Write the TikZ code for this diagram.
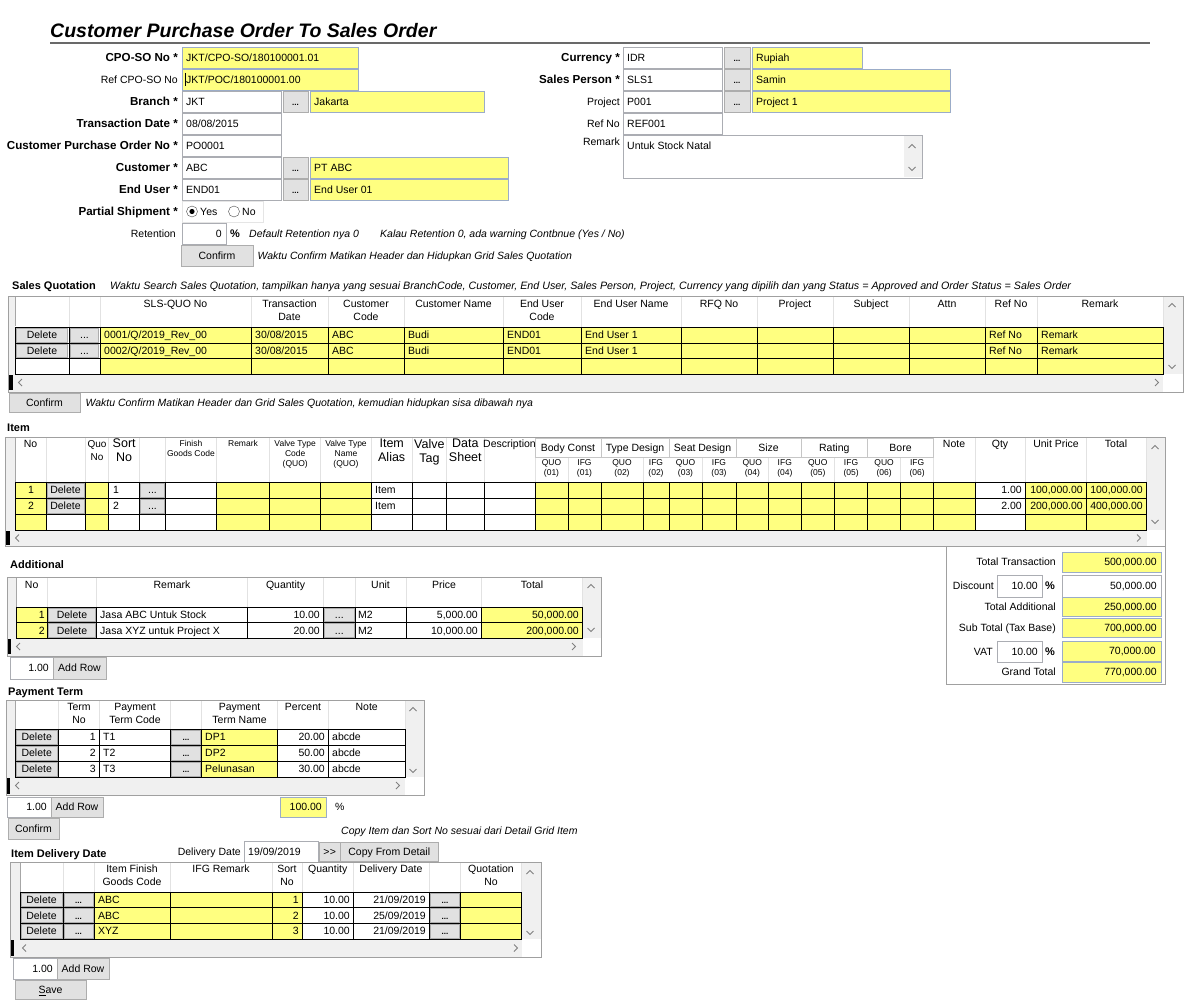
\documentclass[tikz,border=0pt]{standalone}
\usepackage{fontspec}
\setmainfont{Liberation Sans}
\usetikzlibrary{positioning}

\definecolor{fieldyellow}{RGB}{255,255,128}
\definecolor{btngray}{RGB}{225,225,225}
\definecolor{btnedge}{RGB}{173,173,173}
\definecolor{boxedge}{RGB}{171,173,179}
\definecolor{yelledge}{RGB}{155,172,200}
\definecolor{gridedge}{RGB}{160,160,160}
\definecolor{hdrline}{RGB}{226,226,226}
\definecolor{scrollbg}{RGB}{240,240,240}
\definecolor{rulegray}{RGB}{105,105,105}

\tikzset{
  txt/.style={inner sep=0pt, anchor=west, font=\fontsize{10.5}{13}\selectfont,
    text height=7.6pt, text depth=0pt},
  rtxt/.style={txt, anchor=east},
  ctxt/.style={txt, anchor=center},
  lbl/.style={rtxt, font=\fontsize{11.6}{13}\selectfont\bfseries},
  sec/.style={txt, font=\fontsize{11}{13}\selectfont\bfseries},
  note/.style={txt, font=\fontsize{10.5}{13}\selectfont\itshape},
  hdr/.style={inner sep=0pt, anchor=north, align=center, font=\fontsize{10.5}{13}\selectfont},
  hdrs/.style={hdr, font=\fontsize{8.5}{10}\selectfont},
  hdrb/.style={hdr, font=\fontsize{12.5}{14}\selectfont},
  wbox/.style={draw=boxedge, fill=white, line width=0.8pt},
  ybox/.style={draw=yelledge, fill=fieldyellow, line width=0.8pt},
  button/.style={draw=btnedge, fill=btngray, line width=0.8pt, inner sep=0pt,
    font=\fontsize{10.5}{13}\selectfont, text height=7.6pt, text depth=0pt},
  bolddots/.style={font=\fontsize{8}{9}\selectfont\bfseries},
  wcell/.style={draw=black, fill=white, line width=0.9pt},
  ycell/.style={draw=black, fill=fieldyellow, line width=0.9pt},
  gridbox/.style={draw=gridedge, fill=white, line width=0.8pt},
  hdrsep/.style={draw=hdrline, line width=0.8pt},
  chev/.style={draw=gray, line width=0.8pt},
}

% x1, x2, yc, name, style, text
\newcommand{\fieldbox}[6]{%
  \draw[#5] (#1,#3-10.5) rectangle (#2,#3+10.5);
  \node[txt] (#4) at (#1+4,#3) {#6};}
% name, x1, x2, y1, y2, text
\newcommand{\btnat}[6]{%
  \node[button, minimum width={(#3)-(#2)}, minimum height={(#5)-(#4)}]
    (#1) at ({((#2)+(#3))/2},{((#4)+(#5))/2}) {#6};}
% name, x1, x2, y1, y2
\newcommand{\dotbtn}[5]{%
  \node[button, bolddots, minimum width={(#3)-(#2)}, minimum height={(#5)-(#4)}]
    (#1) at ({((#2)+(#3))/2},{((#4)+(#5))/2}) {...};}
\newcommand{\chevU}[2]{\draw[chev] (#1-3.5,#2+2) -- (#1,#2-1.5) -- (#1+3.5,#2+2);}
\newcommand{\chevD}[2]{\draw[chev] (#1-3.5,#2-2) -- (#1,#2+1.5) -- (#1+3.5,#2-2);}
\newcommand{\chevL}[2]{\draw[chev] (#1+2,#2-3.5) -- (#1-1.5,#2) -- (#1+2,#2+3.5);}
\newcommand{\chevR}[2]{\draw[chev] (#1-2,#2-3.5) -- (#1+1.5,#2) -- (#1-2,#2+3.5);}

\begin{document}
\begin{tikzpicture}[x=1pt,y=-1pt]
  \useasboundingbox (0,0) rectangle (1198,1000);
  \fill[white] (0,0) rectangle (1198,1000);

  % Title
  \node[inner sep=0pt, anchor=base west, font=\fontsize{19.5}{22}\selectfont\bfseries\itshape]
    (title) at (50,38) {Customer Purchase Order To Sales Order};
  \draw[rulegray, line width=2pt] (50,43.5) -- (1150,43.5);

  % Header, left side
  \foreach \yc/\t [count=\i] in {57.5/CPO-SO No *, 102/Branch *, 123.5/Transaction Date *,
      145.5/Customer Purchase Order No *, 168/Customer *, 190/End User *, 211.5/Partial Shipment *}
    \node[lbl] (hl\i) at (178,\yc) {\t};
  \node[rtxt] (hlref) at (178,79.5) {Ref CPO-SO No};
  \node[rtxt] (hlret) at (176,233.5) {Retention};

  \fieldbox{182}{358}{57.5}{cpono}{ybox}{JKT/CPO-SO/180100001.01}
  \fieldbox{182}{358}{79.5}{refno}{ybox}{JKT/POC/180100001.00}
  \draw (185.5,73) -- (185.5,86);
  \fieldbox{182}{281}{102}{brcode}{wbox}{JKT}
  \dotbtn{brbtn}{283}{308}{91.5}{112.5}
  \fieldbox{310}{484}{102}{brname}{ybox}{Jakarta}
  \fieldbox{182}{281}{123.5}{trdate}{wbox}{08/08/2015}
  \fieldbox{182}{281}{145.5}{custpo}{wbox}{PO0001}
  \fieldbox{182}{281}{168}{custcode}{wbox}{ABC}
  \dotbtn{custbtn}{283}{308}{157.5}{178.5}
  \fieldbox{310}{508}{168}{custname}{ybox}{PT ABC}
  \fieldbox{182}{281}{190}{eucode}{wbox}{END01}
  \dotbtn{eubtn}{283}{308}{179.5}{200.5}
  \fieldbox{310}{508}{190}{euname}{ybox}{End User 01}

  % Partial shipment radio buttons
  \draw[draw=gray!20, fill=white] (182,201) rectangle (263,222);
  \draw[draw=gray!60!black, fill=white] (192,211.5) circle[radius=5.5];
  \fill (192,211.5) circle[radius=2.6];
  \node[txt] (yes) at (200,211.5) {Yes};
  \draw[draw=gray!60!black, fill=white] (234,211.5) circle[radius=5.5];
  \node[txt] (no) at (242,211.5) {No};

  % Retention
  \draw[wbox] (182,223) rectangle (226,244);
  \node[rtxt] (retval) at (222,233.5) {0};
  \node[txt, font=\fontsize{11}{13}\selectfont\bfseries] (retpct) at (230,233.5) {\%};
  \node[note] (retnote1) at (249,233.5) {Default Retention nya 0};
  \node[note] (retnote2) at (380,233.5) {Kalau Retention 0, ada warning Contbnue (Yes / No)};

  \btnat{conf1}{181}{253}{245}{266}{Confirm}
  \node[note, right=4pt of conf1] (conf1note) {Waktu Confirm Matikan Header dan Hidupkan Grid Sales Quotation};

  % Header, right side
  \node[lbl] (hr1) at (620,57.5) {Currency *};
  \node[lbl] (hr2) at (620,79.5) {Sales Person *};
  \node[rtxt] (hrproj) at (620,102) {Project};
  \node[rtxt] (hrref) at (620,123.5) {Ref No};
  \node[rtxt] (hrrem) at (620,142) {Remark};
  \fieldbox{623}{722}{57.5}{curcode}{wbox}{IDR}
  \dotbtn{curbtn}{724}{750}{47}{68}
  \fieldbox{752}{862}{57.5}{curname}{ybox}{Rupiah}
  \fieldbox{623}{722}{79.5}{slscode}{wbox}{SLS1}
  \dotbtn{slsbtn}{724}{750}{69}{90}
  \fieldbox{752}{950}{79.5}{slsname}{ybox}{Samin}
  \fieldbox{623}{722}{102}{prjcode}{wbox}{P001}
  \dotbtn{prjbtn}{724}{750}{91.5}{112.5}
  \fieldbox{752}{950}{102}{prjname}{ybox}{Project 1}
  \fieldbox{623}{722}{123.5}{refcode}{wbox}{REF001}
  \draw[wbox] (623,135) rectangle (922,178);
  \fill[scrollbg] (904,136) rectangle (921.5,177.5);
  \chevU{912}{146} \chevD{912}{169}
  \node[txt] (remtext) at (627,146) {Untuk Stock Natal};

  % Sales Quotation grid
  \node[sec] (sqtitle) at (12,286) {Sales Quotation};
  \node[note, font=\fontsize{10.7}{13}\selectfont\itshape] (sqnote) at (110,286) {Waktu Search Sales Quotation, tampilkan hanya yang sesuai BranchCode, Customer, End User, Sales Person, Project, Currency yang dipilih dan yang Status = Approved and Order Status = Sales Order};
  \draw[gridbox] (8,296) rectangle (1183,392);
  \fill[scrollbg] (9,297) rectangle (15,374);
  \fill[scrollbg] (1163,297) rectangle (1182.5,374);
  \fill[scrollbg] (9,374) rectangle (1163,391.5);
  \fill[black] (9,375) rectangle (12.5,390);
  \draw[gray!70, line width=1pt] (15,297) -- (15,326);
  \foreach \x in {69,100,251,328,404,503,581,681,757,833,909,985,1037,1163}
    \draw[hdrsep] (\x,297) -- (\x,326.5);
  \foreach \x/\t [count=\i] in {175.5/SLS-QUO No, 289.5/Transaction\\Date, 366/Customer\\Code,
      453.5/Customer Name, 542/End User\\Code, 631/End User Name, 719/RFQ No, 795/Project,
      871/Subject, 947/Attn, 1011/Ref No, 1100/Remark}
    \node[hdr] (sqh\i) at (\x,300) {\t};
  \foreach \a/\b/\s in {15/69/wcell, 69/100/wcell, 100/251/ycell, 251/328/ycell, 328/404/ycell,
      404/503/ycell, 503/581/ycell, 581/681/ycell, 681/757/ycell, 757/833/ycell, 833/909/ycell,
      909/985/ycell, 985/1037/ycell, 1037/1163/ycell}
    \foreach \t/\u in {327/343, 343/358.5, 358.5/374}
      \draw[\s] (\a,\t) rectangle (\b,\u);
  \foreach \t/\u/\q [count=\i] in {327/343/0001, 343/358.5/0002} {
    \btnat{sqdel\i}{16.5}{67.5}{\t+1}{\u-1}{Delete}
    \btnat{sqdot\i}{70.5}{98.5}{\t+1}{\u-1}{...}
    \node[txt] (sqno\i) at (104,{(\t+\u)/2}) {\q/Q/2019\_Rev\_00};
    \node[txt] (sqdt\i) at (255,{(\t+\u)/2}) {30/08/2015};
    \node[txt] (sqcc\i) at (332,{(\t+\u)/2}) {ABC};
    \node[txt] (sqcn\i) at (408,{(\t+\u)/2}) {Budi};
    \node[txt] (sqec\i) at (507,{(\t+\u)/2}) {END01};
    \node[txt] (sqen\i) at (585,{(\t+\u)/2}) {End User 1};
    \node[txt] (sqrf\i) at (989,{(\t+\u)/2}) {Ref No};
    \node[txt] (sqrm\i) at (1041,{(\t+\u)/2}) {Remark};
  }
  \chevU{1172}{305} \chevD{1172}{367}
  \chevL{20}{382.5} \chevR{1157}{382.5}
  \btnat{conf2}{9}{80}{393}{412}{Confirm}
  \node[note, right=5pt of conf2] (conf2note) {Waktu Confirm Matikan Header dan Grid Sales Quotation, kemudian hidupkan sisa dibawah nya};

  % Item grid
  \node[sec] (itemtitle) at (7,428) {Item};
  \draw[gridbox] (5,437) rectangle (1165,546);
  \fill[scrollbg] (6,438) rectangle (15,530);
  \fill[scrollbg] (1146.5,438) rectangle (1164.5,530);
  \fill[scrollbg] (6,530) rectangle (1146.5,545.5);
  \fill[black] (6,531) rectangle (9.5,545);
  \draw[gray!70, line width=1pt] (15,438) -- (15,482);
  \foreach \x in {46,85,108.7,139.7,165.3,216.6,269.8,320.7,371.2,412.2,446.6,484,535,
      933.5,975,1025.5,1086,1146.5}
    \draw[hdrsep] (\x,438) -- (\x,482);
  \foreach \x in {568,643,702,768.6,834.6,900.7}
    \draw[hdrsep] (\x,457) -- (\x,482);
  \foreach \a/\b/\t [count=\i] in {535/601/Body Const, 601/669/Type Design, 669/736/Seat Design,
      736/801/Size, 801/867.5/Rating, 867.5/933.5/Bore} {
    \draw[draw=gray!45, line width=0.8pt] (\a,438) rectangle (\b,457);
    \node[ctxt] (itg\i) at ({(\a+\b)/2},447.5) {\t};
  }
  \foreach \a/\m/\b/\n in {535/568/601/01, 601/643/669/02, 669/702/736/03, 736/768.6/801/04,
      801/834.6/867.5/05, 867.5/900.7/933.5/06} {
    \node[hdrs] (itq\n) at ({(\a+\m)/2},459.5) {QUO\\(\n)};
    \node[hdrs] (itf\n) at ({(\m+\b)/2},459.5) {IFG\\(\n)};
  }
  \node[hdr] (ith1) at (30.5,440) {No};
  \node[hdr, font=\fontsize{10}{13}\selectfont] (ith2) at (97,440) {Quo\\No};
  \node[hdrb] (ith3) at (124.2,439) {Sort\\No};
  \node[hdrs] (ith4) at (190.9,440) {Finish\\Goods Code};
  \node[hdrs] (ith5) at (243,440) {Remark};
  \node[hdrs] (ith6) at (295.2,440) {Valve Type\\Code\\(QUO)};
  \node[hdrs] (ith7) at (346,440) {Valve Type\\Name\\(QUO)};
  \node[hdrb] (ith8) at (391.7,439) {Item\\Alias};
  \node[hdrb] (ith9) at (429.4,439) {Valve\\Tag};
  \node[hdrb] (ith10) at (465.3,439) {Data\\Sheet};
  \node[hdr] (ith11) at (509.5,440) {Description};
  \node[hdr] (ith12) at (954,440) {Note};
  \node[hdr] (ith13) at (1000,440) {Qty};
  \node[hdr] (ith14) at (1056,440) {Unit Price};
  \node[hdr] (ith15) at (1116,440) {Total};
  \foreach \a/\b/\s in {15/46/ycell, 46/85/wcell, 85/108.7/ycell, 108.7/139.7/wcell,
      139.7/165.3/wcell, 165.3/216.6/wcell, 216.6/269.8/ycell, 269.8/320.7/ycell,
      320.7/371.2/ycell, 371.2/412.2/wcell, 412.2/446.6/wcell, 446.6/484/wcell, 484/535/wcell,
      535/568/ycell, 568/601/ycell, 601/643/ycell, 643/669/ycell, 669/702/ycell, 702/736/ycell,
      736/768.6/ycell, 768.6/801/ycell, 801/834.6/ycell, 834.6/867.5/ycell, 867.5/900.7/ycell,
      900.7/933.5/ycell, 933.5/975/ycell, 975/1025.5/wcell, 1025.5/1086/ycell, 1086/1146.5/ycell}
    \foreach \t/\u in {482/498, 498/514, 514/530}
      \draw[\s] (\a,\t) rectangle (\b,\u);
  \foreach \t/\u/\q [count=\i] in {482/498/1, 498/514/2} {
    \node[ctxt] (itno\i) at (31,{(\t+\u)/2}) {\i};
    \btnat{itdel\i}{47}{84}{\t+1}{\u-1}{Delete}
    \node[txt] (itsort\i) at (113,{(\t+\u)/2}) {\i};
    \btnat{itdot\i}{140.7}{164.3}{\t+1}{\u-1}{...}
    \node[txt] (italias\i) at (375,{(\t+\u)/2}) {Item};
    \node[rtxt] (itqty\i) at (1022,{(\t+\u)/2}) {\q.00};
  }
  \node[rtxt] (itup1) at (1083,490) {100,000.00};
  \node[rtxt] (itup2) at (1083,506) {200,000.00};
  \node[rtxt] (ittot1) at (1143,490) {100,000.00};
  \node[rtxt] (ittot2) at (1143,506) {400,000.00};
  \chevU{1155}{447} \chevD{1155}{522}
  \chevL{17}{538} \chevR{1139}{538}

  % Totals panel
  \draw[gridbox] (946,546) rectangle (1165,684);
  \node[rtxt] (totl1) at (1056,562) {Total Transaction};
  \node[rtxt] (totl2) at (994,586) {Discount};
  \node[rtxt] (totl3) at (1056,607) {Total Additional};
  \node[rtxt] (totl4) at (1056,628) {Sub Total (Tax Base)};
  \node[rtxt] (totl5) at (993,651.5) {VAT};
  \node[rtxt] (totl6) at (1056,672) {Grand Total};
  \draw[wbox] (997,575.5) rectangle (1042,597);
  \node[rtxt] (disc) at (1038,586) {10.00};
  \draw[wbox] (997,641) rectangle (1042,662);
  \node[rtxt] (vat) at (1038,651.5) {10.00};
  \node[txt, font=\fontsize{11}{13}\selectfont\bfseries] (discpct) at (1045,586) {\%};
  \node[txt, font=\fontsize{11}{13}\selectfont\bfseries] (vatpct) at (1045,651.5) {\%};
  \draw[ybox] (1062.5,552) rectangle (1161.5,572);
  \draw[wbox] (1062.5,575.5) rectangle (1161.5,597);
  \draw[ybox] (1062.5,597.5) rectangle (1161.5,616.5);
  \draw[ybox] (1062.5,618.5) rectangle (1161.5,637.5);
  \draw[ybox] (1062.5,641) rectangle (1161,661);
  \draw[ybox] (1062.5,662.5) rectangle (1161.5,682);
  \node[rtxt] (totv1) at (1157,562) {500,000.00};
  \node[rtxt] (totv2) at (1157,586) {50,000.00};
  \node[rtxt] (totv3) at (1157,607) {250,000.00};
  \node[rtxt] (totv4) at (1157,628) {700,000.00};
  \node[rtxt] (totv5) at (1156,651) {70,000.00};
  \node[rtxt] (totv6) at (1157,672) {770,000.00};

  % Additional grid
  \node[sec] (addtitle) at (10,565) {Additional};
  \draw[gridbox] (7,577) rectangle (601,656);
  \fill[scrollbg] (8,578) rectangle (16.3,638);
  \fill[scrollbg] (582.5,578) rectangle (600.5,638);
  \fill[scrollbg] (8,638) rectangle (582.5,655.5);
  \fill[black] (8,639) rectangle (11,654);
  \draw[gray!70, line width=1pt] (16.3,578) -- (16.3,607);
  \foreach \x in {47.5,96.5,247.5,323.7,355,406,481.7,582.5}
    \draw[hdrsep] (\x,578) -- (\x,607);
  \foreach \x/\t [count=\i] in {31.7/No, 172/Remark, 285.6/Quantity, 380.5/Unit, 444/Price, 532/Total}
    \node[hdr] (adh\i) at (\x,581) {\t};
  \foreach \a/\b/\s in {16.3/47.5/ycell, 47.5/96.5/wcell, 96.5/247.5/wcell, 247.5/323.7/wcell,
      323.7/355/wcell, 355/406/wcell, 406/481.7/wcell, 481.7/582.5/ycell}
    \foreach \t/\u in {607/622.5, 622.5/638}
      \draw[\s] (\a,\t) rectangle (\b,\u);
  \foreach \t/\u [count=\i] in {607/622.5, 622.5/638} {
    \node[rtxt] (adno\i) at (45,{(\t+\u)/2}) {\i};
    \btnat{addel\i}{48.5}{95.5}{\t+1}{\u-1}{Delete}
    \btnat{addot\i}{324.7}{354}{\t+1}{\u-1}{...}
    \node[txt] (adunit\i) at (358,{(\t+\u)/2}) {M2};
  }
  \node[txt] (adrm1) at (100,614.8) {Jasa ABC Untuk Stock};
  \node[txt] (adrm2) at (100,630.3) {Jasa XYZ untuk Project X};
  \node[rtxt] (adqt1) at (320,614.8) {10.00};
  \node[rtxt] (adqt2) at (320,630.3) {20.00};
  \node[rtxt] (adpr1) at (478,614.8) {5,000.00};
  \node[rtxt] (adpr2) at (478,630.3) {10,000.00};
  \node[rtxt] (adtt1) at (579,614.8) {50,000.00};
  \node[rtxt] (adtt2) at (579,630.3) {200,000.00};
  \chevU{591}{586} \chevD{591}{630}
  \chevL{18}{646.5} \chevR{574}{646.5}
  \draw[wbox] (10,657) rectangle (53,679);
  \node[rtxt] (adrows) at (49,668) {1.00};
  \btnat{adadd}{53}{106}{657}{679}{Add Row}

  % Payment Term grid
  \node[sec] (paytitle) at (8,692) {Payment Term};
  \draw[gridbox] (6,700) rectangle (424,795);
  \fill[scrollbg] (7,701) rectangle (15.3,777);
  \fill[scrollbg] (405,701) rectangle (423.5,777);
  \fill[scrollbg] (7,777) rectangle (405,794.5);
  \fill[black] (7,778) rectangle (10,794);
  \draw[gray!70, line width=1pt] (15.3,701) -- (15.3,729);
  \foreach \x in {58.2,99.5,170.3,201.7,277.5,328.4,405}
    \draw[hdrsep] (\x,701) -- (\x,729);
  \foreach \x/\t [count=\i] in {79/Term\\No, 135/Payment\\Term Code, 239.6/Payment\\Term Name,
      303/Percent, 366.7/Note}
    \node[hdr] (pth\i) at (\x,703) {\t};
  \foreach \a/\b/\s in {15.3/58.2/wcell, 58.2/99.5/wcell, 99.5/170.3/wcell, 170.3/201.7/wcell,
      201.7/277.5/ycell, 277.5/328.4/wcell, 328.4/405/wcell}
    \foreach \t/\u in {729/745, 745/761, 761/777}
      \draw[\s] (\a,\t) rectangle (\b,\u);
  \foreach \t/\u/\n/\p [count=\i] in {729/745/DP1/20.00, 745/761/DP2/50.00, 761/777/Pelunasan/30.00} {
    \btnat{ptdel\i}{16.3}{57.2}{\t+1}{\u-1}{Delete}
    \node[rtxt] (ptno\i) at (96,{(\t+\u)/2}) {\i};
    \node[txt] (ptcode\i) at (103,{(\t+\u)/2}) {T\i};
    \dotbtn{ptdot\i}{171.3}{200.7}{\t+1}{\u-1}
    \node[txt] (ptname\i) at (205,{(\t+\u)/2}) {\n};
    \node[rtxt] (ptpct\i) at (325,{(\t+\u)/2}) {\p};
    \node[txt] (ptnote\i) at (332,{(\t+\u)/2}) {abcde};
  }
  \chevU{413}{709} \chevD{413}{771}
  \chevL{17}{785.5} \chevR{398}{785.5}
  \draw[wbox] (7,797) rectangle (51,817);
  \node[rtxt] (ptrows) at (47,807) {1.00};
  \btnat{ptadd}{51}{103}{797}{817}{Add Row}
  \draw[ybox] (280,797) rectangle (326,817);
  \node[rtxt] (ptsum) at (322,807) {100.00};
  \node[txt] (ptsumpct) at (335,807) {\%};
  \btnat{conf3}{8}{59}{818}{839}{Confirm}
  \node[note] (copynote) at (341,831) {Copy Item dan Sort No sesuai dari Detail Grid Item};

  % Item Delivery Date grid
  \node[sec] (deltitle) at (11,854) {Item Delivery Date};
  \node[rtxt] (dellbl) at (241,851.5) {Delivery Date};
  \fieldbox{244}{318}{851.5}{deldate}{wbox}{19/09/2019}
  \btnat{delnext}{319.5}{340}{842}{861}{>\kern0.5pt>}
  \btnat{delcopy}{340.5}{438}{842}{861}{Copy From Detail}
  \draw[gridbox] (10,862) rectangle (541.5,957);
  \fill[scrollbg] (11,863) rectangle (20,939);
  \fill[scrollbg] (521.6,863) rectangle (541,939);
  \fill[scrollbg] (11,939) rectangle (521.6,956.5);
  \fill[black] (11,940) rectangle (14,956);
  \draw[gray!70, line width=1pt] (20,863) -- (20,892);
  \foreach \x in {63,94,170,272,302,353,429.5,460.5,521.6}
    \draw[hdrsep] (\x,863) -- (\x,892);
  \foreach \x/\t [count=\i] in {132/Item Finish\\Goods Code, 221/IFG Remark, 287/Sort\\No,
      327.7/Quantity, 391/Delivery Date, 491/Quotation\\No}
    \node[hdr] (ddh\i) at (\x,865) {\t};
  \foreach \a/\b/\s in {20/63/wcell, 63/94/wcell, 94/170/ycell, 170/272/ycell, 272/302/ycell,
      302/353/wcell, 353/429.5/wcell, 429.5/460.5/wcell, 460.5/521.6/ycell}
    \foreach \t/\u in {892/907.5, 907.5/923, 923/939}
      \draw[\s] (\a,\t) rectangle (\b,\u);
  \foreach \t/\u/\c/\d [count=\i] in {892/907.5/ABC/21, 907.5/923/ABC/25, 923/939/XYZ/21} {
    \btnat{dddel\i}{21}{62}{\t+1}{\u-1}{Delete}
    \dotbtn{dddot\i}{64}{93}{\t+1}{\u-1}
    \node[txt] (ddcode\i) at (98,{(\t+\u)/2}) {\c};
    \node[rtxt] (ddsort\i) at (299,{(\t+\u)/2}) {\i};
    \node[rtxt] (ddqty\i) at (350,{(\t+\u)/2}) {10.00};
    \node[rtxt] (dddate\i) at (426,{(\t+\u)/2}) {\d/09/2019};
    \dotbtn{ddpick\i}{430.5}{459.5}{\t+1}{\u-1}
  }
  \chevU{530}{872} \chevD{530}{933}
  \chevL{24}{948} \chevR{516}{948}
  \draw[wbox] (13,958) rectangle (57,979);
  \node[rtxt] (ddrows) at (53,968.5) {1.00};
  \btnat{ddadd}{57}{109}{958}{979}{Add Row}
  \btnat{save}{15}{86}{980}{999}{\underline{S}ave}
\end{tikzpicture}
\end{document}
